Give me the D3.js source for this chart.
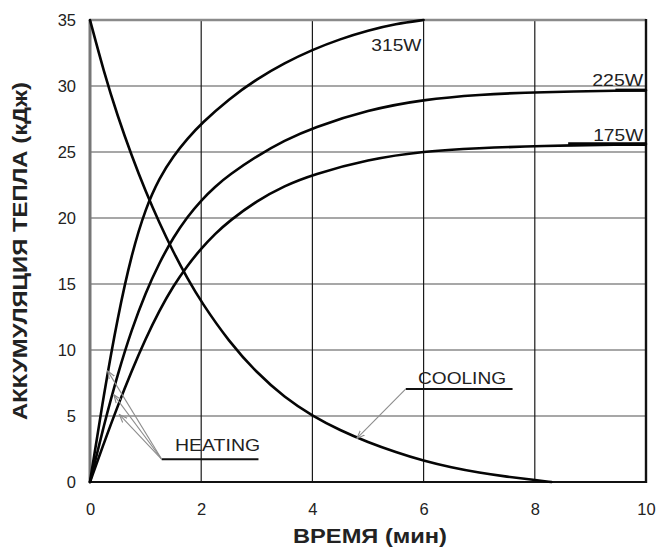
<!DOCTYPE html>
<html>
<head>
<meta charset="utf-8">
<script src="https://cdn.jsdelivr.net/npm/d3@7"></script>
<style>
  html, body { margin: 0; padding: 0; background: #fff; }
  svg { display: block; }
  text { font-family: "Liberation Sans", Arial, sans-serif; fill: #222; }
</style>
</head>
<body>
<svg id="chart" width="659" height="558"></svg>
<script>
// Time axis (minutes) and heat accumulation axis (kJ)
const xTicks = [0, 2, 4, 6, 8, 10];
const yTicks = [0, 5, 10, 15, 20, 25, 30, 35];

// Heating curves at three heater powers: time (min) and stored heat (kJ)
const t315 = [0, 0.25, 0.5, 0.75, 1, 1.25, 1.5, 1.75, 2, 2.5, 3, 3.5, 4, 4.5, 5, 5.5, 6];
const v315 = [0, 6.69, 12.56, 17.31, 20.75, 23.06, 24.7, 26.01, 27.15, 29.03, 30.53, 31.75, 32.75, 33.56, 34.21, 34.71, 35];

const t225 = [0, 0.25, 0.5, 0.75, 1, 1.25, 1.5, 1.75, 2, 2.25, 2.5, 3, 3.5, 4, 5, 6, 7, 8, 10];
const v225 = [0, 4.31, 8.2, 11.56, 14.35, 16.64, 18.54, 20.09, 21.34, 22.38, 23.25, 24.7, 25.88, 26.83, 28.2, 28.98, 29.35, 29.54, 29.68];

const t175 = [0, 0.25, 0.5, 0.75, 1, 1.25, 1.5, 1.75, 2, 2.25, 2.5, 3, 3.5, 4, 5, 6, 7, 8, 10];
const v175 = [0, 2.95, 5.78, 8.43, 10.86, 13.02, 14.86, 16.39, 17.69, 18.8, 19.76, 21.31, 22.45, 23.29, 24.44, 25.07, 25.3, 25.45, 25.6];

// Cooling curve
const tCool = [0, 0.25, 0.5, 0.75, 1, 1.25, 1.5, 1.75, 2, 2.5, 3, 3.5, 4, 4.5, 5, 5.5, 6, 6.5, 7, 7.5, 8, 8.3];
const vCool = [35, 31.06, 27.68, 24.71, 22.02, 19.6, 17.41, 15.43, 13.64, 10.62, 8.27, 6.4, 5.0, 3.91, 3.01, 2.26, 1.6, 1.1, 0.7, 0.4, 0.15, 0];

const seriesNames = ["315W", "225W", "175W"];

const svg = d3.select("#chart");
const x = d3.scaleLinear().domain([0, 10]).range([90, 646]);
const y = d3.scaleLinear().domain([0, 35]).range([482, 20]);

const zip = (ts, vs) => ts.map((t, i) => [t, vs[i]]);

// Grid: horizontal lines grey, vertical lines dark
svg.append("g")
  .selectAll("line")
  .data(yTicks.slice(1, -1))
  .join("line")
  .attr("x1", x(0)).attr("x2", x(10))
  .attr("y1", d => y(d)).attr("y2", d => y(d))
  .attr("stroke", "#8a8a8a").attr("stroke-width", 1.6);

svg.append("g")
  .selectAll("line")
  .data(xTicks.slice(1, -1))
  .join("line")
  .attr("x1", d => x(d)).attr("x2", d => x(d))
  .attr("y1", y(0)).attr("y2", y(35))
  .attr("stroke", "#1a1a1a").attr("stroke-width", 1.2);

// Frame
const frame = svg.append("g").attr("fill", "none");
frame.append("line").attr("x1", x(0)).attr("x2", x(10)).attr("y1", y(35)).attr("y2", y(35))
  .attr("stroke", "#8a8a8a").attr("stroke-width", 2.4);
frame.append("line").attr("x1", x(0)).attr("x2", x(0)).attr("y1", y(0)).attr("y2", y(35))
  .attr("stroke", "#777").attr("stroke-width", 3);
frame.append("line").attr("x1", x(0) - 1).attr("x2", x(10) + 1).attr("y1", y(0)).attr("y2", y(0))
  .attr("stroke", "#111").attr("stroke-width", 2.2);
frame.append("line").attr("x1", x(10)).attr("x2", x(10)).attr("y1", y(0) + 1).attr("y2", y(35) - 1)
  .attr("stroke", "#111").attr("stroke-width", 2.4);

// Tick labels via axes (lines removed)
const xAxis = svg.append("g")
  .attr("transform", `translate(0,${y(0)})`)
  .call(d3.axisBottom(x).tickValues(xTicks).tickSize(0).tickPadding(21).tickFormat(d3.format("d")));
const yAxis = svg.append("g")
  .attr("transform", `translate(${x(0)},0)`)
  .call(d3.axisLeft(y).tickValues(yTicks).tickSize(0).tickPadding(14).tickFormat(d3.format("d")));
[xAxis, yAxis].forEach(g => {
  g.select(".domain").remove();
  g.selectAll("text")
    .attr("font-family", "'Liberation Sans', Arial, sans-serif")
    .attr("font-size", 16.5)
    .attr("fill", "#2a2a2a");
});

// Curves
const line = d3.line()
  .x(d => x(d[0]))
  .y(d => y(d[1]))
  .curve(d3.curveBasis);

const curves = [zip(t315, v315), zip(t225, v225), zip(t175, v175), zip(tCool, vCool)];
svg.append("g")
  .selectAll("path")
  .data(curves)
  .join("path")
  .attr("d", line)
  .attr("fill", "none")
  .attr("stroke", "#050505")
  .attr("stroke-width", 2.6)
  .attr("stroke-linejoin", "round")
  .attr("stroke-linecap", "round");

// Heavier leader strokes under the right-hand series labels
svg.append("line")
  .attr("x1", x(9.45)).attr("x2", x(10)).attr("y1", y(v225[v225.length - 1])).attr("y2", y(v225[v225.length - 1]))
  .attr("stroke", "#050505").attr("stroke-width", 3.2);
svg.append("line")
  .attr("x1", x(8.6)).attr("x2", x(10)).attr("y1", y(v175[v175.length - 1])).attr("y2", y(v175[v175.length - 1]))
  .attr("stroke", "#050505").attr("stroke-width", 3.6);

// Series labels
const lbl = svg.append("g").attr("font-size", 16).attr("text-anchor", "end");
lbl.append("text").attr("x", x(5.96)).attr("y", 51).attr("textLength", 50).attr("lengthAdjust", "spacingAndGlyphs").text(seriesNames[0]);
lbl.append("text").attr("x", x(9.95)).attr("y", 86).attr("textLength", 51).attr("lengthAdjust", "spacingAndGlyphs").text(seriesNames[1]);
lbl.append("text").attr("x", x(9.95)).attr("y", 141).attr("textLength", 50).attr("lengthAdjust", "spacingAndGlyphs").text(seriesNames[2]);

// Arrow marker for annotation leaders
svg.append("defs").append("marker")
  .attr("id", "arr")
  .attr("viewBox", "0 0 10 10")
  .attr("refX", 9).attr("refY", 5)
  .attr("markerWidth", 8).attr("markerHeight", 8)
  .attr("orient", "auto")
  .append("path")
  .attr("d", "M0,1.5 L9,5 L0,8.5")
  .attr("fill", "none")
  .attr("stroke", "#8c8c8c")
  .attr("stroke-width", 1.3);

// COOLING annotation
const coolAnchor = [5.68, 7.05];
svg.append("line")
  .attr("x1", x(coolAnchor[0])).attr("x2", x(7.6))
  .attr("y1", y(coolAnchor[1])).attr("y2", y(coolAnchor[1]))
  .attr("stroke", "#111").attr("stroke-width", 2);
svg.append("line")
  .attr("x1", x(coolAnchor[0])).attr("y1", y(coolAnchor[1]))
  .attr("x2", x(4.8)).attr("y2", y(3.3))
  .attr("stroke", "#8c8c8c").attr("stroke-width", 1.1)
  .attr("marker-end", "url(#arr)");
svg.append("text")
  .attr("x", x(5.9)).attr("y", y(7.45))
  .attr("font-size", 16.5)
  .attr("textLength", 88).attr("lengthAdjust", "spacingAndGlyphs")
  .text("COOLING");

// HEATING annotation
const heatAnchor = [1.29, 1.72];
svg.append("line")
  .attr("x1", x(heatAnchor[0])).attr("x2", x(3.03))
  .attr("y1", y(heatAnchor[1])).attr("y2", y(heatAnchor[1]))
  .attr("stroke", "#111").attr("stroke-width", 2);
const heatTips = [[0.32, 8.4], [0.43, 6.6], [0.53, 5.1]];
svg.append("g")
  .selectAll("line")
  .data(heatTips)
  .join("line")
  .attr("x1", x(heatAnchor[0])).attr("y1", y(heatAnchor[1]))
  .attr("x2", d => x(d[0])).attr("y2", d => y(d[1]))
  .attr("stroke", "#8c8c8c").attr("stroke-width", 1.1)
  .attr("marker-end", "url(#arr)");
svg.append("text")
  .attr("x", x(1.53)).attr("y", y(2.32))
  .attr("font-size", 16.5)
  .attr("textLength", 85).attr("lengthAdjust", "spacingAndGlyphs")
  .text("HEATING");

// Axis titles
svg.append("text")
  .attr("x", 370).attr("y", 543)
  .attr("text-anchor", "middle")
  .attr("font-size", 20).attr("font-weight", "bold").attr("fill", "#111")
  .attr("textLength", 154).attr("lengthAdjust", "spacingAndGlyphs")
  .text("ВРЕМЯ (мин)");
svg.append("text")
  .attr("transform", "translate(27,251) rotate(-90)")
  .attr("text-anchor", "middle")
  .attr("font-size", 20).attr("font-weight", "bold").attr("fill", "#111")
  .attr("textLength", 338).attr("lengthAdjust", "spacingAndGlyphs")
  .text("АККУМУЛЯЦИЯ ТЕПЛА (кДж)");
</script>
</body>
</html>
